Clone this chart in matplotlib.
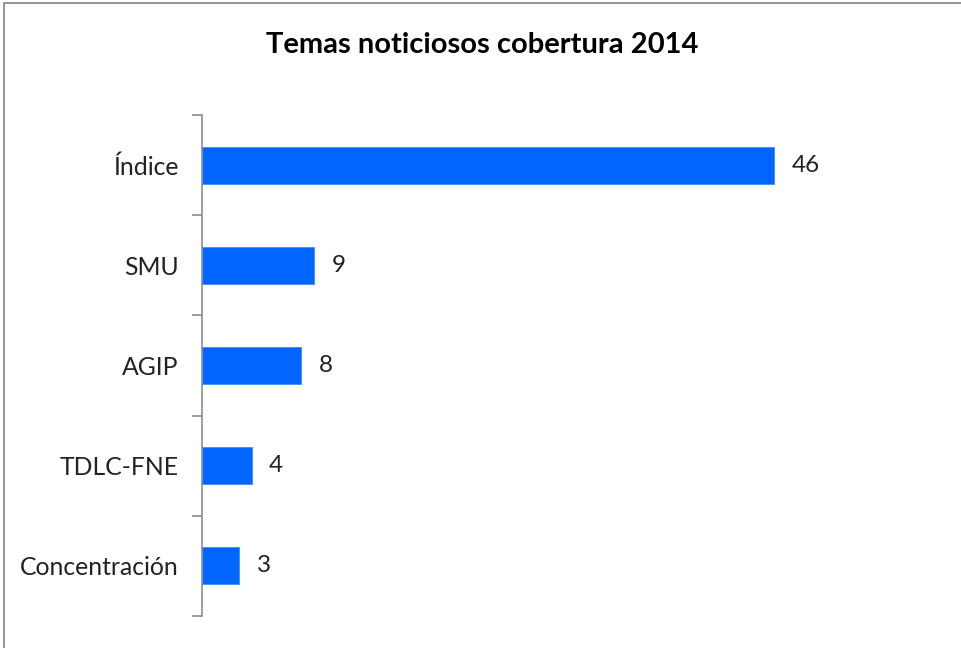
import matplotlib.pyplot as plt
from matplotlib.lines import Line2D

categories = ["Índice", "SMU", "AGIP", "TDLC-FNE", "Concentración"]
values = [46, 9, 8, 4, 3]
title = "Temas noticiosos cobertura 2014"

plt.rcParams['font.family'] = ['Lato', 'DejaVu Sans']

W, H = 962, 648
fig = plt.figure(figsize=(W / 100, H / 100), dpi=100)

# chart-area frame: only the left and top edges are visible in the crop
fig.lines.append(Line2D([3.5 / W, 3.5 / W, 1], [0, 1 - 2.5 / H, 1 - 2.5 / H],
                        transform=fig.transFigure, color='#8c8c8c',
                        linewidth=1.3))

ax_left, ax_top, ax_bot = 202, 115, 616
px_per_unit = 572 / 46
xmax = 60
ax = fig.add_axes([ax_left / W, 1 - ax_bot / H,
                   xmax * px_per_unit / W, (ax_bot - ax_top) / H])

n = len(categories)
ypos = list(range(n))[::-1]
ax.barh(ypos, values, height=0.37, color='#0066ff', edgecolor='#3d8bff',
        linewidth=0.6)

for y, v in zip(ypos, values):
    ax.text(v + 1.4, y, str(v), va='center', ha='left', fontsize=17.5,
            color='#222222')

ax.set_xlim(0, xmax)
ax.set_ylim(-0.5, n - 0.5)
ax.set_xticks([])

# labels centred on bars, tick marks between categories
ax.set_yticks(ypos)
ax.set_yticklabels(categories, fontsize=17.8, color='#222222')
ax.tick_params(axis='y', which='major', length=0, pad=17)
ax.set_yticks([i - 0.5 for i in range(n + 1)], minor=True)
ax.tick_params(axis='y', which='minor', length=7, width=1.2, color='#8c8c8c',
               direction='out')

for s in ['top', 'right', 'bottom']:
    ax.spines[s].set_visible(False)
ax.spines['left'].set_color('#8c8c8c')
ax.spines['left'].set_linewidth(1.2)

fig.text(482 / W, 1 - 45 / H, title, ha='center', va='center',
         fontsize=21, fontweight='bold', color='#000000')

fig.savefig('out.png', dpi=100)
